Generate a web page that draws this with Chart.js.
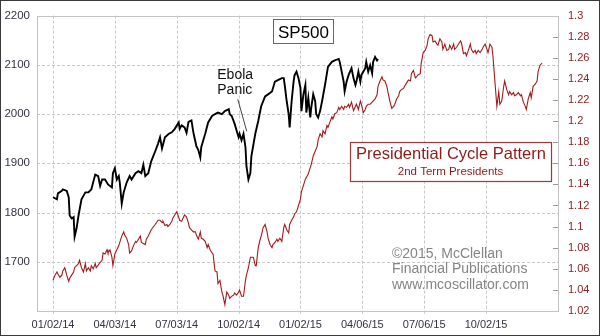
<!DOCTYPE html>
<html><head><meta charset="utf-8">
<script src="https://cdn.jsdelivr.net/npm/chart.js@4"></script>
<style>html,body{margin:0;padding:0;background:#fff;}canvas{display:block;}</style>
</head><body>
<canvas id="c" width="600" height="336"></canvas>
<script>
// Trading-day index since 01/02/14
const spDays = [0,4,5,9,10,14,16,17,19,21,22,24,26,29,33,36,39,43,46,48,50,53,56,60,61,63,65,67,68,70,72,75,78,80,84,87,90,92,94,97,100,104,107,109,111,114,118,121,124,128,129,131,134,136,138,141,143,146,148,150,151,155,158,162,165,168,172,175,179,180,182,185,189,190,192,194,196,197,199,201,202,206,209,212,216,219,223,226,229,233,235,236,238,240,241,243,245,246,248,250,252,253,255,257,258,260,262,263,265,267,268,270,272,274,277,280,284,287,291,292,294,296,297,299,301,304,306,308,309,311,313,314,318,319,321,323,325,326,328,330,331];
const spValues = [1831,1827,1839,1844,1847,1844,1831,1794,1788,1791,1751,1768,1794,1827,1841,1841,1847,1877,1874,1854,1867,1867,1857,1851,1880,1890,1867,1874,1861,1818,1841,1861,1874,1867,1880,1884,1880,1897,1874,1880,1904,1924,1940,1953,1930,1953,1960,1963,1970,1983,1970,1977,1973,1962,1984,1987,1962,1935,1927,1912,1933,1960,1983,1996,2000,2003,2000,2006,2010,2000,1996,1980,1953,1960,1947,1960,1933,1894,1867,1880,1914,1960,1986,2016,2036,2040,2046,2066,2069,2073,2073,2059,2026,2000,1973,2026,2066,2079,2086,2073,2053,2006,2040,2059,2003,2033,1993,2013,2040,2026,2000,1993,2006,2026,2059,2096,2106,2109,2112,2106,2086,2066,2046,2066,2079,2093,2073,2059,2066,2086,2066,2079,2093,2106,2086,2099,2083,2106,2116,2109,2112];

const pcDays = [0,2,4,5,7,9,10,12,14,16,17,19,21,22,24,26,27,29,31,33,34,36,38,39,41,43,44,48,50,51,53,55,56,58,60,61,63,65,67,68,70,72,73,75,77,78,80,82,84,85,87,89,90,92,94,95,97,100,104,107,109,111,112,114,116,117,119,121,122,124,126,128,129,131,133,134,136,138,139,141,143,145,146,148,150,151,153,155,157,158,160,162,163,165,167,168,170,172,173,175,177,179,180,182,184,185,187,189,190,192,194,196,197,199,201,202,204,206,207,209,211,212,214,216,218,219,221,223,224,226,228,229,231,233,235,236,238,240,241,243,245,246,248,250,252,253,257,260,263,265,269,270,272,274,275,277,279,280,282,284,285,287,289,291,292,294,296,297,299,301,302,304,306,308,309,311,313,314,316,318,319,321,323,325,326,328,330,331,333,335,336,338,340,341,343,345,347,348,350,352,353,355,357,358,360,362,364,365,367,369,370,372,374,375,377,379,381,382,384,386,387,389,391,392,394,396,397,399,401,403,404,406,408,409,411,413,415,416,418,420,421,423,425,426,428,430,431,433,435,437,438,440,442,443,445,447,448,450,452,454,455,457,459,460,462,464,465,467,469,470,472,474,476,477,479,481,482,484,486,487,489,491,493,494,496,498];
const pcValues = [1.049,1.054,1.057,1.055,1.052,1.054,1.058,1.061,1.054,1.048,1.051,1.054,1.057,1.061,1.063,1.065,1.068,1.061,1.057,1.065,1.058,1.061,1.058,1.063,1.060,1.065,1.061,1.066,1.068,1.075,1.074,1.078,1.075,1.078,1.071,1.063,1.074,1.078,1.082,1.085,1.091,1.095,1.092,1.089,1.083,1.075,1.077,1.082,1.086,1.085,1.088,1.091,1.085,1.084,1.083,1.088,1.091,1.097,1.102,1.106,1.106,1.104,1.105,1.101,1.102,1.100,1.102,1.105,1.108,1.111,1.114,1.109,1.106,1.105,1.109,1.111,1.109,1.103,1.099,1.097,1.095,1.095,1.092,1.088,1.095,1.089,1.088,1.086,1.080,1.083,1.078,1.075,1.074,1.058,1.057,1.046,1.049,1.038,1.035,1.026,1.038,1.035,1.032,1.034,1.035,1.037,1.035,1.038,1.040,1.034,1.034,1.049,1.054,1.061,1.071,1.071,1.071,1.063,1.063,1.080,1.088,1.091,1.099,1.102,1.095,1.089,1.083,1.080,1.083,1.085,1.088,1.086,1.089,1.086,1.099,1.102,1.097,1.094,1.102,1.106,1.109,1.112,1.114,1.120,1.126,1.133,1.145,1.150,1.159,1.167,1.176,1.182,1.188,1.185,1.191,1.188,1.196,1.194,1.199,1.204,1.202,1.207,1.208,1.213,1.211,1.214,1.211,1.214,1.213,1.216,1.213,1.218,1.210,1.214,1.216,1.211,1.219,1.216,1.208,1.211,1.214,1.216,1.216,1.218,1.219,1.221,1.225,1.233,1.238,1.242,1.239,1.238,1.233,1.228,1.219,1.212,1.214,1.216,1.221,1.224,1.228,1.230,1.231,1.233,1.236,1.239,1.238,1.245,1.248,1.241,1.242,1.244,1.245,1.255,1.265,1.267,1.272,1.278,1.282,1.281,1.275,1.276,1.273,1.272,1.278,1.275,1.268,1.273,1.267,1.268,1.272,1.268,1.273,1.268,1.270,1.273,1.276,1.274,1.264,1.265,1.262,1.267,1.273,1.268,1.265,1.267,1.264,1.267,1.265,1.268,1.270,1.273,1.268,1.265,1.273,1.270,1.262,1.238,1.214,1.228,1.216,1.219,1.233,1.238,1.230,1.225,1.228,1.225,1.227,1.224,1.225,1.227,1.224,1.225,1.218,1.214,1.211,1.221,1.227,1.222,1.233,1.235,1.238,1.247,1.253,1.255];

const dateTickDays = [0,63,126,189,252,315,378,441];
const dateTickLabels = ['01/02/14','04/03/14','07/03/14','10/02/14','01/02/15','04/06/15','07/06/15','10/02/15'];
const spTickValues = [1600,1700,1800,1900,2000,2100,2200];
const pcTickValues = [1.02,1.04,1.06,1.08,1.10,1.12,1.14,1.16,1.18,1.20,1.22,1.24,1.26,1.28,1.30];
const seriesNames = ['SP500','Presidential Cycle Pattern'];

const spData = spDays.map((d,i)=>({x:d,y:spValues[i]}));
const pcData = pcDays.map((d,i)=>({x:d,y:pcValues[i]}));

const FONT = "'Liberation Sans', Arial, sans-serif";
const gridColor = '#c8c8c8';

const decor = {
  id:'decor',
  beforeDraw(chart){
    const c = chart.ctx;
    c.save(); c.fillStyle='#fff'; c.fillRect(0,0,chart.width,chart.height); c.restore();
  },
  beforeDatasetsDraw(chart){
    const c = chart.ctx, a = chart.chartArea;
    const xs = chart.scales.x, ys = chart.scales.y;
    c.save();
    c.strokeStyle = gridColor; c.lineWidth = 1; c.setLineDash([3,2]);
    dateTickDays.forEach(d=>{
      const px = Math.round(xs.getPixelForValue(d))+0.5;
      c.beginPath(); c.moveTo(px,a.top); c.lineTo(px,a.bottom+3); c.stroke();
    });
    spTickValues.forEach(v=>{
      const py = Math.round(ys.getPixelForValue(v))+0.5;
      c.beginPath(); c.moveTo(a.left,py); c.lineTo(a.right,py); c.stroke();
    });
    c.restore();
  },
  afterDatasetsDraw(chart){
    const c = chart.ctx, a = chart.chartArea;
    const xs = chart.scales.x, ys = chart.scales.y, y1 = chart.scales.y1;
    c.save();
    // right-axis inner tick marks
    c.strokeStyle = '#9a9a9a'; c.lineWidth = 1;
    y1.ticks.forEach(t=>{
      const py = Math.round(y1.getPixelForValue(t.value))+0.5;
      c.beginPath(); c.moveTo(a.right-6,py); c.lineTo(a.right,py); c.stroke();
    });
    // plot frame
    c.strokeStyle = '#c4c4c4';
    c.strokeRect(Math.round(a.left)+0.5, Math.round(a.top)+0.5, Math.round(a.right-a.left)-1, Math.round(a.bottom-a.top));
    // SP500 box
    c.fillStyle='#fff'; c.fillRect(273,19,60,24);
    c.strokeStyle='#666'; c.strokeRect(273.5,19.5,60,24);
    c.fillStyle='#000'; c.font = '17px '+FONT; c.textAlign='center'; c.textBaseline='alphabetic';
    c.fillText(seriesNames[0], 303.5, 37.5);
    // Presidential box
    c.fillStyle='#fff'; c.fillRect(350,142,201,39);
    c.strokeStyle='#a03a3a'; c.lineWidth=1.2; c.strokeRect(350.5,142.5,201,39);
    c.fillStyle='#8b1a1a'; c.font = '16.5px '+FONT;
    c.fillText(seriesNames[1], 451, 158.5);
    c.font = '11.5px '+FONT;
    c.fillText('2nd Term Presidents', 450.5, 175);
    // copyright
    c.fillStyle='#858585'; c.font='14px '+FONT; c.textAlign='left';
    c.fillText('\u00A92015, McClellan', 392, 257.5);
    c.fillText('Financial Publications', 392, 273);
    c.fillText('www.mcoscillator.com', 392, 289);
    // Ebola annotation
    c.fillStyle='#111'; c.font='14px '+FONT;
    const tx = xs.getPixelForValue(167.3);
    c.fillText('Ebola', tx, ys.getPixelForValue(2071));
    c.fillText('Panic', tx, ys.getPixelForValue(2040));
    c.strokeStyle='#444'; c.lineWidth=1;
    c.beginPath();
    c.moveTo(xs.getPixelForValue(188.2), ys.getPixelForValue(2030));
    c.lineTo(xs.getPixelForValue(197.3), ys.getPixelForValue(1965));
    c.stroke();
    c.restore();
  },
  afterDraw(chart){
    const c = chart.ctx;
    c.save(); c.strokeStyle='#3a3a3a'; c.lineWidth=1;
    c.strokeRect(0.5,0.5,chart.width-1,chart.height-1);
    c.restore();
  }
};

new Chart(document.getElementById('c'), {
  type:'line',
  data:{ datasets:[
    {label:seriesNames[0], data:spData, yAxisID:'y', borderColor:'#000', borderWidth:1.9, pointRadius:0, tension:0, order:0},
    {label:seriesNames[1], data:pcData, yAxisID:'y1', borderColor:'#a01c1c', borderWidth:1.1, pointRadius:0, tension:0, order:1}
  ]},
  options:{
    responsive:false, animation:false, devicePixelRatio:1,
    layout:{padding:{top:9,left:0,right:0,bottom:0}},
    plugins:{legend:{display:false}, tooltip:{enabled:false}},
    scales:{
      x:{type:'linear', min:-16.3, max:515.3,
        afterBuildTicks:s=>{s.ticks = dateTickDays.map(v=>({value:v}));},
        afterFit:s=>{s.height=25;},
        ticks:{autoSkip:false, maxRotation:0, padding:7, color:'#333344', font:{family:FONT,size:11},
          callback:v=>{const i=dateTickDays.indexOf(v); return i>=0?dateTickLabels[i]:'';}},
        grid:{display:false, drawTicks:false},
        border:{display:false}
      },
      y:{type:'linear', position:'left', min:1600, max:2200,
        afterBuildTicks:s=>{s.ticks = spTickValues.map(v=>({value:v}));},
        afterFit:s=>{s.width=37;},
        ticks:{padding:7, color:'#333344', font:{family:FONT,size:11.5},
          callback:v=> v===1600 ? '' : String(v)},
        grid:{display:false, drawTicks:false},
        border:{display:false}
      },
      y1:{type:'linear', position:'right', min:1.02, max:1.30,
        afterBuildTicks:s=>{s.ticks = pcTickValues.map(v=>({value:v}));},
        afterFit:s=>{s.width=41;},
        ticks:{padding:9, color:'#8b2323', font:{family:FONT,size:11},
          callback:v=> String(parseFloat(Number(v).toFixed(2)))},
        grid:{display:false, drawTicks:false},
        border:{display:false}
      }
    }
  },
  plugins:[decor]
});
</script>
</body></html>
